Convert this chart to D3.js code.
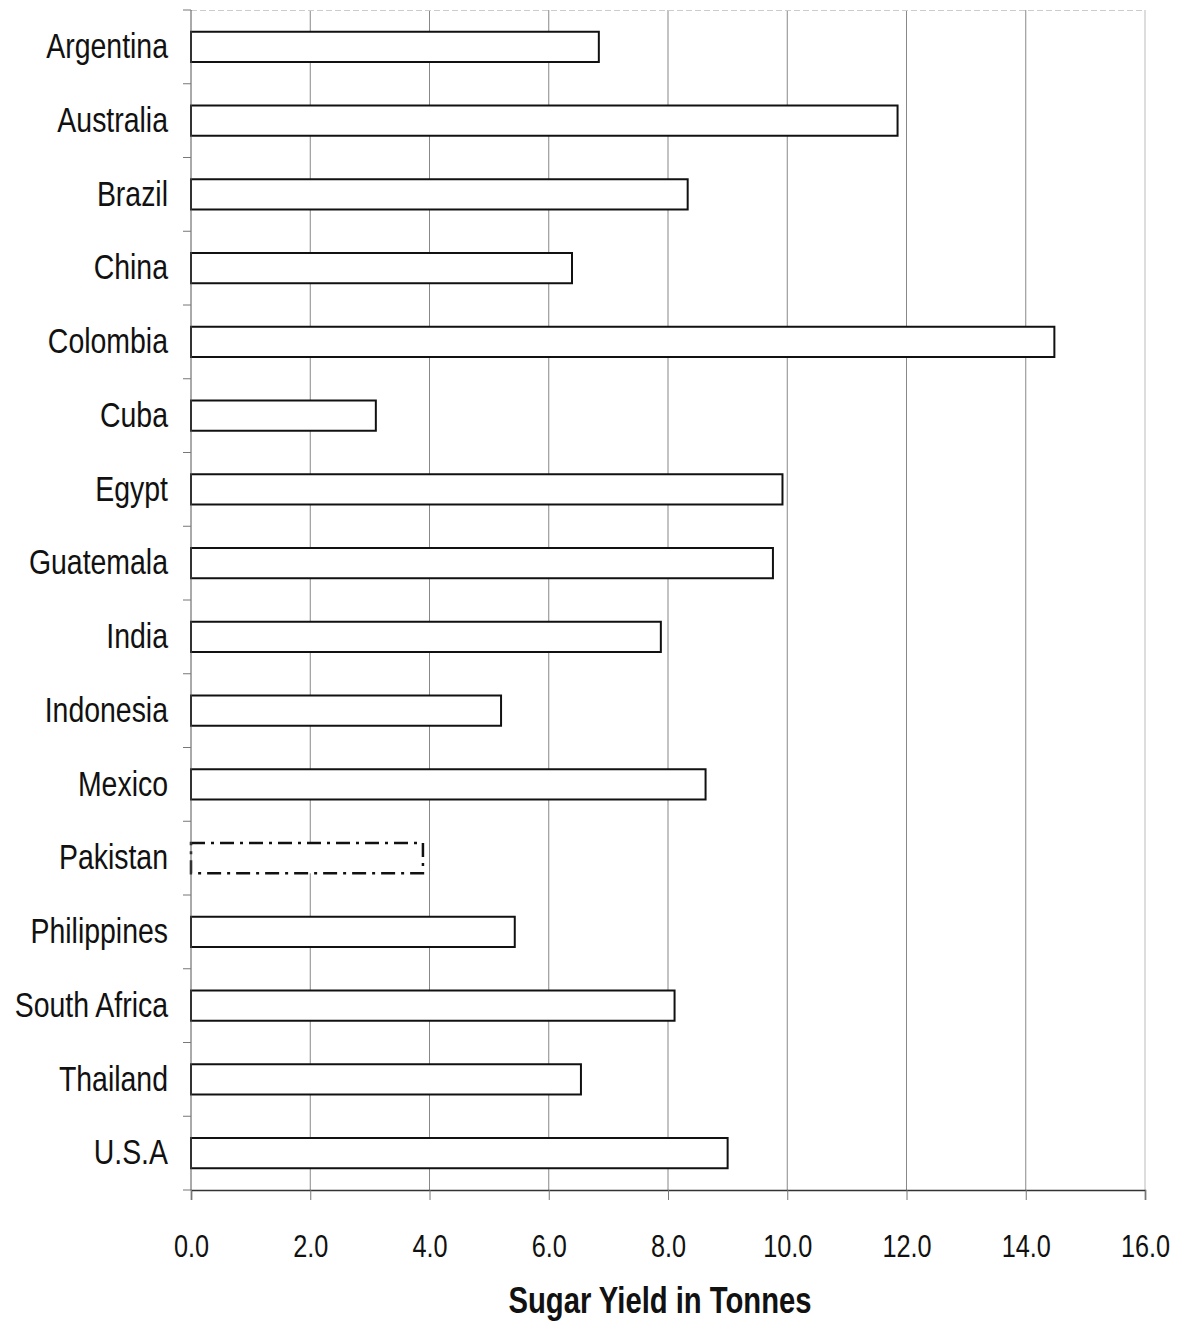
<!DOCTYPE html>
<html>
<head>
<meta charset="utf-8">
<script src="https://cdn.jsdelivr.net/npm/d3@7"></script>
<style>
  body { margin: 0; background: #fff; }
  text { font-family: "Liberation Sans", Arial, sans-serif; }
</style>
</head>
<body>
<div id="chart"></div>
<script>
const countries = ["Argentina", "Australia", "Brazil", "China", "Colombia", "Cuba", "Egypt", "Guatemala",
  "India", "Indonesia", "Mexico", "Pakistan", "Philippines", "South Africa", "Thailand", "U.S.A"];
const yields = [6.84, 11.85, 8.33, 6.39, 14.48, 3.10, 9.92, 9.76, 7.88, 5.20, 8.63, 3.89, 5.43, 8.11, 6.54, 9.00];
const dashed = ["Pakistan"];
const xTicks = [0, 2, 4, 6, 8, 10, 12, 14, 16];

const data = countries.map((c, i) => ({ country: c, value: yields[i] }));

const width = 1183;
const height = 1322;
const margin = { top: 10, right: 38, bottom: 132, left: 191 };
const narrow = 0.79; // squeeze Liberation Sans to look like Arial Narrow

const svg = d3.select("#chart").append("svg")
  .attr("width", width)
  .attr("height", height);

const x = d3.scaleLinear()
  .domain([0, 16])
  .range([margin.left, width - margin.right]);

const y = d3.scaleBand()
  .domain(countries)
  .range([margin.top, height - margin.bottom])
  .paddingInner(0.59)
  .paddingOuter(0.295);

// gridlines
svg.append("g")
  .selectAll("line")
  .data(xTicks.slice(1))
  .join("line")
  .attr("x1", d => x(d))
  .attr("x2", d => x(d))
  .attr("y1", margin.top)
  .attr("y2", height - margin.bottom)
  .attr("stroke", d => d === 16 ? "#bbb" : "#888")
  .attr("stroke-width", 1);

// top frame
svg.append("line")
  .attr("x1", x(0)).attr("x2", x(16))
  .attr("y1", margin.top + 0.5).attr("y2", margin.top + 0.5)
  .attr("stroke", "#ccc")
  .attr("stroke-dasharray", "6,3");

// bars
svg.append("g")
  .selectAll("rect")
  .data(data)
  .join("rect")
  .attr("x", x(0))
  .attr("y", d => y(d.country))
  .attr("width", d => x(d.value) - x(0))
  .attr("height", y.bandwidth())
  .attr("fill", "#fff")
  .attr("stroke", "#111")
  .attr("stroke-width", d => dashed.includes(d.country) ? 2.5 : 2)
  .attr("stroke-dasharray", d => dashed.includes(d.country) ? "14,6,3,6" : null);

// y axis with ticks at band boundaries
const step = y.step();
const yAxis = svg.append("g");
yAxis.append("line")
  .attr("x1", x(0)).attr("x2", x(0))
  .attr("y1", margin.top).attr("y2", height - margin.bottom)
  .attr("stroke", "#555");
yAxis.selectAll("line.tick")
  .data(d3.range(countries.length + 1))
  .join("line")
  .attr("class", "tick")
  .attr("x1", x(0) - 8).attr("x2", x(0))
  .attr("y1", i => margin.top + i * step)
  .attr("y2", i => margin.top + i * step)
  .attr("stroke", "#777");
yAxis.selectAll("text")
  .data(countries)
  .join("text")
  .attr("transform", d => `translate(${x(0) - 23},${y(d) + y.bandwidth() / 2}) scale(${narrow},1)`)
  .attr("dy", "0.31em")
  .attr("text-anchor", "end")
  .style("font-size", "36px")
  .attr("fill", "#111")
  .text(d => d);

// x axis
const xAxis = svg.append("g")
  .attr("transform", `translate(0,${height - margin.bottom})`)
  .call(d3.axisBottom(x).tickValues(xTicks).tickFormat(d3.format(".1f")).tickSize(10).tickPadding(34));
xAxis.select(".domain").attr("stroke", "#333").attr("stroke-width", 1.5);
xAxis.selectAll(".tick line").attr("stroke", "#777");
xAxis.selectAll(".tick text")
  .attr("transform", `scale(${narrow},1)`)
  .style("font-size", "32px")
  .attr("fill", "#111");

svg.append("text")
  .attr("transform", `translate(660,1313) scale(${narrow},1)`)
  .attr("text-anchor", "middle")
  .style("font-size", "37px")
  .style("font-weight", "bold")
  .attr("fill", "#111")
  .text("Sugar Yield in Tonnes");
</script>
</body>
</html>
